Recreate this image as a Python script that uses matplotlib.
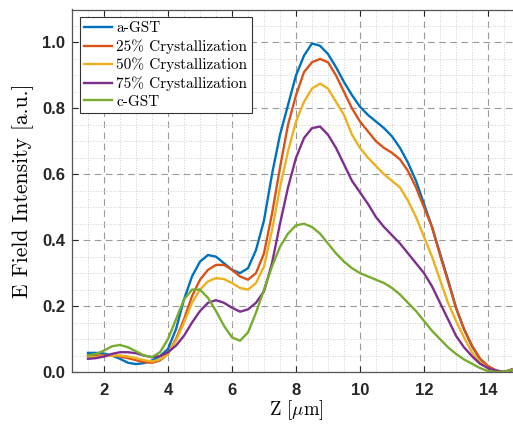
import matplotlib
matplotlib.use("Agg")
import matplotlib.pyplot as plt
from matplotlib.ticker import MultipleLocator

plt.rcParams['mathtext.fontset'] = 'cm'
plt.rcParams['axes.unicode_minus'] = False

# Z positions (um), shared by all curves
z = [1.5, 1.75, 2.0, 2.25, 2.5, 2.75, 3.0, 3.25, 3.5, 3.75,
     4.0, 4.25, 4.5, 4.75, 5.0, 5.25, 5.5, 5.75, 6.0, 6.25,
     6.5, 6.75, 7.0, 7.25, 7.5, 7.75, 8.0, 8.25, 8.5, 8.75,
     9.0, 9.25, 9.5, 9.75, 10.0, 10.25, 10.5, 10.75, 11.0, 11.25,
     11.5, 11.75, 12.0, 12.25, 12.5, 12.75, 13.0, 13.25, 13.5, 13.75,
     14.0, 14.25, 14.5, 14.75]

a_gst = [0.058, 0.058, 0.056, 0.050, 0.040, 0.028, 0.024, 0.027, 0.035, 0.048,
         0.070, 0.13, 0.22, 0.29, 0.335, 0.355, 0.35, 0.33, 0.31, 0.30,
         0.315, 0.37, 0.46, 0.60, 0.72, 0.81, 0.90, 0.96, 0.997, 0.99,
         0.965, 0.925, 0.88, 0.84, 0.805, 0.78, 0.76, 0.74, 0.715, 0.68,
         0.635, 0.58, 0.51, 0.44, 0.36, 0.28, 0.195, 0.13, 0.078, 0.04,
         0.017, 0.004, 0.0, 0.008]

c25 = [0.050, 0.050, 0.050, 0.050, 0.047, 0.042, 0.036, 0.030, 0.028, 0.035,
       0.055, 0.10, 0.16, 0.23, 0.28, 0.31, 0.325, 0.325, 0.31, 0.29,
       0.28, 0.30, 0.36, 0.48, 0.62, 0.75, 0.84, 0.91, 0.94, 0.95,
       0.94, 0.90, 0.85, 0.80, 0.76, 0.73, 0.70, 0.68, 0.665, 0.645,
       0.61, 0.56, 0.50, 0.44, 0.355, 0.275, 0.195, 0.13, 0.08, 0.04,
       0.018, 0.005, 0.0, 0.008]

c50 = [0.045, 0.045, 0.048, 0.050, 0.050, 0.047, 0.042, 0.036, 0.032, 0.038,
       0.055, 0.095, 0.15, 0.21, 0.25, 0.275, 0.285, 0.282, 0.27, 0.255,
       0.25, 0.27, 0.32, 0.43, 0.56, 0.67, 0.76, 0.82, 0.86, 0.875,
       0.86, 0.82, 0.78, 0.72, 0.68, 0.65, 0.625, 0.60, 0.58, 0.56,
       0.52, 0.47, 0.41, 0.35, 0.28, 0.21, 0.155, 0.105, 0.06, 0.03,
       0.012, 0.003, 0.0, 0.006]

c75 = [0.040, 0.042, 0.047, 0.055, 0.060, 0.060, 0.057, 0.050, 0.045, 0.048,
       0.060, 0.080, 0.11, 0.15, 0.185, 0.21, 0.218, 0.21, 0.195, 0.183,
       0.19, 0.21, 0.245, 0.33, 0.45, 0.56, 0.65, 0.71, 0.74, 0.745,
       0.72, 0.68, 0.63, 0.58, 0.545, 0.51, 0.47, 0.44, 0.415, 0.39,
       0.36, 0.33, 0.30, 0.26, 0.21, 0.16, 0.11, 0.075, 0.048, 0.025,
       0.012, 0.004, 0.0, 0.005]

c_gst = [0.050, 0.055, 0.065, 0.078, 0.082, 0.075, 0.063, 0.050, 0.045, 0.060,
         0.10, 0.16, 0.22, 0.25, 0.25, 0.225, 0.185, 0.14, 0.105, 0.095,
         0.12, 0.18, 0.25, 0.32, 0.38, 0.42, 0.445, 0.45, 0.44, 0.42,
         0.39, 0.36, 0.335, 0.315, 0.30, 0.29, 0.28, 0.27, 0.255, 0.235,
         0.21, 0.185, 0.155, 0.125, 0.10, 0.075, 0.055, 0.038, 0.025, 0.012,
         0.003, 0.0, 0.0, 0.006]

labels = ['a-GST', '25% Crystallization', '50% Crystallization',
          '75% Crystallization', 'c-GST']
colors = ['#0072BD', '#D95319', '#EDB120', '#7E2F8E', '#77AC30']

fig = plt.figure(figsize=(5.13, 4.24), dpi=100)
ax = fig.add_axes([72 / 513, 52 / 424, 448 / 513, 362.5 / 424])

for ys, lab, col in zip([a_gst, c25, c50, c75, c_gst], labels, colors):
    ax.plot(z, ys, color=col, lw=1.7, label=lab, solid_joinstyle='round')

ax.set_xlim(1, 15)
ax.set_ylim(0, 1.1)
ax.xaxis.set_major_locator(MultipleLocator(2))
ax.xaxis.set_minor_locator(MultipleLocator(0.5))
ax.yaxis.set_minor_locator(MultipleLocator(0.05))
ax.set_yticks([0, 0.2, 0.4, 0.6, 0.8, 1.0])
ax.set_yticklabels(['0.0', '0.2', '0.4', '0.6', '0.8', '1.0'])

ax.grid(True, which='major', linestyle=(0, (6, 4)), color='#9a9a9a', lw=0.8)
ax.grid(True, which='minor', linestyle=':', color='#d0d0d0', lw=0.7)
ax.set_axisbelow(True)

ax.tick_params(which='both', direction='in', top=True, right=True, colors='#262626')
ax.tick_params(which='major', length=4, width=0.8, pad=5)
ax.tick_params(axis='x', which='major', pad=8)
ax.tick_params(which='minor', length=0)
for lbl in ax.get_xticklabels() + ax.get_yticklabels():
    lbl.set_fontfamily('Liberation Sans')
    lbl.set_fontweight('bold')
    lbl.set_fontsize(12)

for s in ax.spines.values():
    s.set_color('#555555')
    s.set_linewidth(0.9)

ax.set_xlabel(r'Z [$\mu$m]', fontfamily='cmr10', fontsize=13.5, labelpad=0)
ax.set_ylabel('E Field Intensity [a.u.]', fontfamily='cmr10', fontsize=15.5, labelpad=6)

leg = ax.legend(loc='upper left', prop={'family': 'cmr10', 'size': 11},
                handlelength=1.8, handletextpad=0.3, borderpad=0.3,
                labelspacing=0.25, borderaxespad=0.5, fancybox=False,
                framealpha=1)
leg.get_frame().set_edgecolor('#333333')
leg.get_frame().set_linewidth(0.8)

fig.savefig('out.png', dpi=100)
